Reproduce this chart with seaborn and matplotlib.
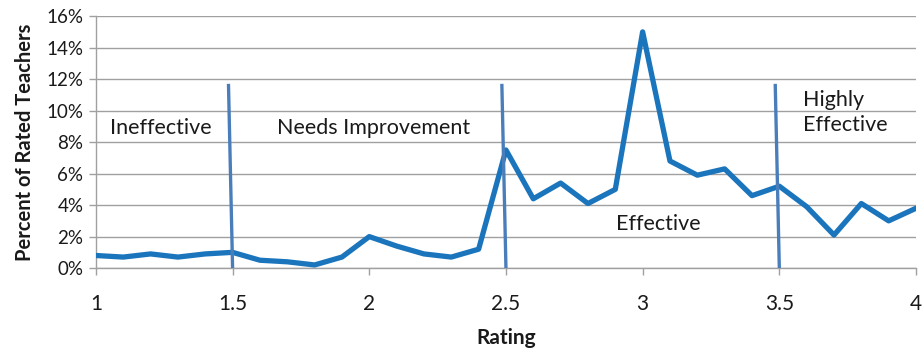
import matplotlib
matplotlib.use("Agg")
import matplotlib.pyplot as plt
from matplotlib.ticker import PercentFormatter
import seaborn as sns
import pandas as pd

# Distribution of teacher ratings
ratings = [1.0, 1.1, 1.2, 1.3, 1.4, 1.5, 1.6, 1.7, 1.8, 1.9,
           2.0, 2.1, 2.2, 2.3, 2.4, 2.5, 2.6, 2.7, 2.8, 2.9,
           3.0, 3.1, 3.2, 3.3, 3.4, 3.5, 3.6, 3.7, 3.8, 3.9, 4.0]
percent_teachers = [0.8, 0.7, 0.9, 0.7, 0.9, 1.0, 0.5, 0.4, 0.2, 0.7,
                    2.0, 1.4, 0.9, 0.7, 1.2, 7.5, 4.4, 5.4, 4.1, 5.0,
                    15.0, 6.8, 5.9, 6.3, 4.6, 5.2, 3.9, 2.1, 4.1, 3.0, 3.8]

# Category cut points and labels (label positions: left edge, baseline of last line)
cut_points = [1.5, 2.5, 3.5]
cut_top = 11.7
categories = ["Ineffective", "Needs Improvement", "Effective", "Highly\nEffective"]
category_pos = [(1.051, 8.5), (1.664, 8.5), (2.901, 2.41), (3.588, 8.7)]

x_ticks = [1, 1.5, 2, 2.5, 3, 3.5, 4]
x_tick_labels = ["1", "1.5", "2", "2.5", "3", "3.5", "4"]
y_ticks = [0, 2, 4, 6, 8, 10, 12, 14, 16]

df = pd.DataFrame({"Rating": ratings, "Percent": percent_teachers})

sns.set_theme(style="white")
plt.rcParams["font.family"] = ["Lato", "DejaVu Sans"]

fig = plt.figure(figsize=(9.22, 3.5), dpi=100)
ax = fig.add_axes([0.104, 0.234, 0.8895, 0.72])

ax.set_xlim(1, 4)
ax.set_ylim(0, 16)
ax.set_yticks(y_ticks)
ax.yaxis.grid(True, color="#a0a0a0", linewidth=1.0)
ax.set_axisbelow(True)

sns.lineplot(data=df, x="Rating", y="Percent", ax=ax, color="#1B75BC",
             linewidth=3.8, zorder=3)

for cp in cut_points:
    ax.plot([cp - 0.015, cp], [cut_top, 0], color="#4A7EBB", linewidth=2.4,
            zorder=4, solid_capstyle="butt")

for label, (tx, ty) in zip(categories, category_pos):
    ax.text(tx, ty, label, fontsize=15.5, color="#1a1a1a", ha="left",
            va="baseline", linespacing=1.32, zorder=5)

ax.set_xticks(x_ticks)
ax.set_xticklabels(x_tick_labels)
ax.yaxis.set_major_formatter(PercentFormatter(decimals=0))

for side in ["top", "right"]:
    ax.spines[side].set_visible(False)
for side in ["left", "bottom"]:
    ax.spines[side].set_color("#a0a0a0")
    ax.spines[side].set_linewidth(1.0)

ax.tick_params(axis="x", bottom=True, direction="out", length=5, width=1,
               color="#a0a0a0", labelsize=15, pad=14, labelcolor="#1a1a1a")
ax.tick_params(axis="y", left=True, direction="out", length=5, width=1,
               color="#a0a0a0", labelsize=13.5, pad=4, labelcolor="#1a1a1a")

ax.set_xlabel("Rating", fontsize=15, fontweight="bold", labelpad=10,
              color="#1a1a1a")
ax.set_ylabel("Percent of Rated Teachers", fontsize=14.5, fontweight="bold",
              labelpad=8, color="#1a1a1a")

fig.savefig("out.png", dpi=100)
